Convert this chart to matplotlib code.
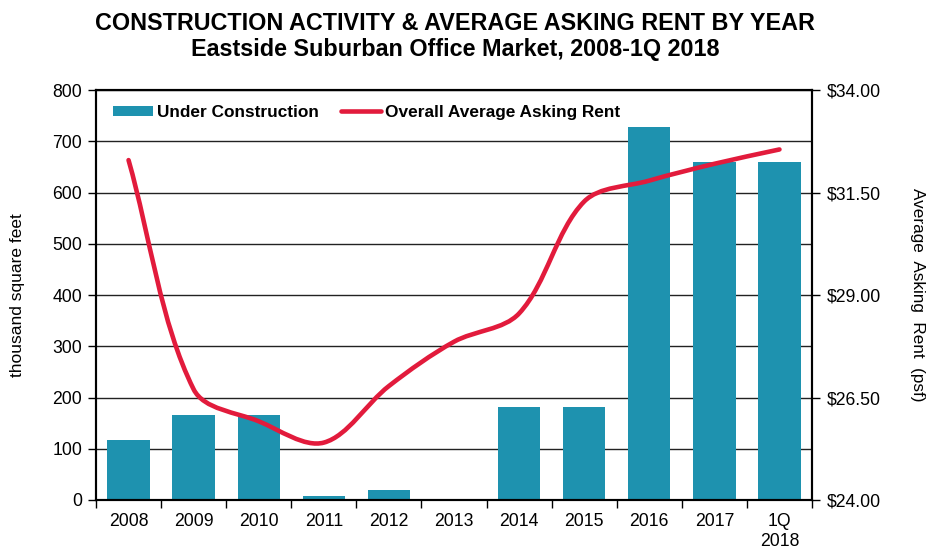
import numpy as np
import matplotlib.pyplot as plt
from matplotlib.path import Path
from matplotlib.patches import PathPatch, Patch
from matplotlib.lines import Line2D

plt.rcParams['font.family'] = ['Liberation Sans', 'DejaVu Sans']

years = ['2008', '2009', '2010', '2011', '2012', '2013', '2014', '2015', '2016', '2017', '1Q\n2018']
under_construction = [117, 165, 165, 8, 20, 0, 181, 181, 728, 660, 660]
asking_rent = [32.29, 26.70, 25.92, 25.40, 26.78, 27.86, 28.55, 31.28, 31.79, 32.20, 32.55]

bar_color = '#1E92AF'
line_color = '#E21B3C'

fig = plt.figure(figsize=(9.29, 5.52), dpi=100)
ax = fig.add_axes([96/929, 52/552, 716/929, 410/552])
ax2 = ax.twinx()

x = np.arange(len(years))
ax.bar(x, under_construction, width=0.65, color=bar_color, zorder=2)
ax.set_xlim(-0.5, len(years) - 0.5)
ax.set_ylim(0, 800)
ax.set_yticks(range(0, 801, 100))
ax.yaxis.grid(True, color='#222222', linewidth=1.0, zorder=0)
ax.set_axisbelow(True)

ax.set_xticks(x)
ax.set_xticklabels(years, fontsize=12.7, linespacing=1.25)
ax.tick_params(axis='x', length=0, pad=9)
ax.set_xticks(np.arange(-0.5, len(years), 1), minor=True)
ax.tick_params(axis='x', which='minor', length=6, width=1, direction='out')
ax.tick_params(axis='y', labelsize=12.7, length=6, width=1, direction='out', pad=4)
ax.set_ylabel('thousand square feet', fontsize=12.5, va='center')
ax.yaxis.set_label_coords(-78/716, 0.5)

# smoothed rent line, bezier through the points (tangents weighted by segment length)
pts = np.column_stack([x, asking_rent]).astype(float)
scale = np.array([716/11, 410/10])  # px per data unit
n = len(pts)
tang_in, tang_out = [], []
for i in range(n):
    p0 = pts[max(i - 1, 0)]
    p2 = pts[min(i + 1, n - 1)]
    d0 = np.hypot(*((pts[i] - p0) * scale))
    d1 = np.hypot(*((p2 - pts[i]) * scale))
    tot = d0 + d1 if d0 + d1 > 0 else 1.0
    tang_in.append((p2 - p0) * d0 / tot / 3.0)
    tang_out.append((p2 - p0) * d1 / tot / 3.0)
verts = [tuple(pts[0])]
codes = [Path.MOVETO]
for i in range(n - 1):
    verts += [tuple(pts[i] + tang_out[i]), tuple(pts[i + 1] - tang_in[i + 1]), tuple(pts[i + 1])]
    codes += [Path.CURVE4] * 3
ax2.add_patch(PathPatch(Path(verts, codes), facecolor='none', edgecolor=line_color,
                        linewidth=3.3, capstyle='round', joinstyle='round', zorder=3))

ax2.set_ylim(24, 34)
ax2.set_yticks([24, 26.5, 29, 31.5, 34])
ax2.set_yticklabels(['$24.00', '$26.50', '$29.00', '$31.50', '$34.00'])
ax2.tick_params(axis='y', labelsize=12.7, length=6, width=1, direction='out', pad=5)
ax2.set_ylabel('Average  Asking  Rent  (psf)', fontsize=12.3, rotation=-90, va='center')
ax2.yaxis.set_label_coords(1 + 106/716, 0.5)

for a in (ax, ax2):
    for s in a.spines.values():
        s.set_linewidth(1.5)
        s.set_color('black')

handles = [Patch(facecolor=bar_color), Line2D([0], [0], color=line_color, linewidth=3.3, solid_capstyle='round')]
ax2.legend(handles, ['Under Construction', 'Overall Average Asking Rent'], loc='upper left',
           ncol=2, frameon=False, prop={'weight': 'bold', 'size': 12.4},
           handlelength=2.3, handleheight=0.5, handletextpad=0.25, columnspacing=1.3,
           borderpad=0, borderaxespad=0, bbox_to_anchor=(17/716, 1 - 15/410))

fig.text(0.49, 0.957, 'CONSTRUCTION ACTIVITY & AVERAGE ASKING RENT BY YEAR',
         ha='center', va='center', fontsize=16.8, fontweight='bold')
fig.text(0.49, 0.910, 'Eastside Suburban Office Market, 2008-1Q 2018',
         ha='center', va='center', fontsize=16.8, fontweight='bold')

fig.savefig('out.png', dpi=100)
